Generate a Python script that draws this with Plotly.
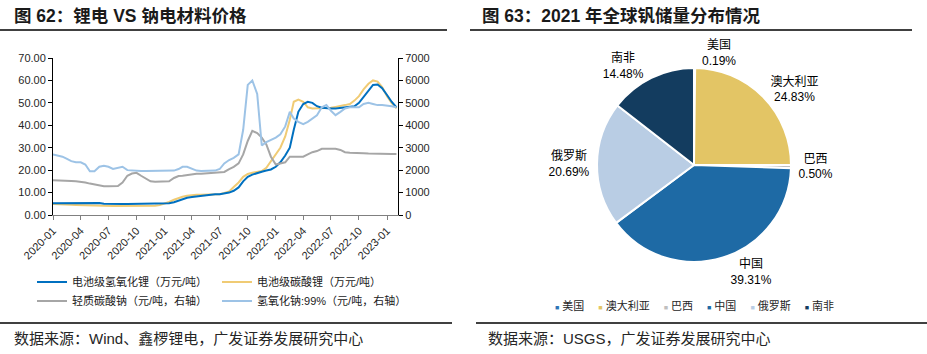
import plotly.graph_objects as go

# ---------------- data ----------------
# semi-monthly observation dates (1st and 16th of each month), 2020-01-01 .. 2023-02-01
dates = [f"{2020 + (i // 2) // 12}-{(i // 2) % 12 + 1:02d}-{1 if i % 2 == 0 else 16:02d}" for i in range(75)]

# 电池级氢氧化锂（万元/吨）
lioh = [5.2, 5.2, 5.3, 5.3, 5.3, 5.3, 5.3, 5.3, 5.4, 5.4,
        5.3, 5.0, 4.9, 4.9, 4.9, 4.9, 4.9, 4.9, 4.9, 4.9,
        4.9, 4.9, 4.9, 4.9, 4.9,
        5.2, 5.7, 6.5, 7.2, 7.7, 8.0, 8.3, 8.5, 8.8, 9.1,
        9.2, 9.3, 9.5, 10.0, 10.8, 12.3, 15.0, 17.0, 18.0, 18.8,
        19.3, 19.8, 20.3, 21.5, 23.5, 26.5, 30.0, 38.0, 46.0, 49.5,
        50.5, 50.0, 48.5, 47.8, 47.5, 47.5, 47.5, 47.8, 48.0, 48.2,
        48.5, 50.0, 52.5, 55.5, 58.0, 58.2, 56.5, 53.5, 50.5, 48.0]

# 电池级碳酸锂（万元/吨）
li2co3 = [4.9, 4.9, 4.8, 4.7, 4.6, 4.5, 4.4, 4.3, 4.2, 4.2,
          4.1, 4.1, 4.0, 4.0, 4.0, 4.0, 4.0, 4.0, 4.1, 4.1,
          4.1, 4.1,
          4.1, 4.4, 5.0, 5.8, 6.8, 7.6, 8.1, 8.6, 8.9, 9.0,
          9.0, 9.0, 9.0, 9.1, 9.3, 9.8, 10.5, 12.5, 14.5, 17.0,
          18.3, 18.8, 19.2, 19.6, 21.0, 24.0, 27.0, 30.0, 35.0, 42.5,
          50.5, 51.5, 50.5, 48.0, 47.5, 47.5, 47.5, 47.5, 47.8, 48.2,
          48.5, 49.0, 49.5, 51.0, 53.0, 56.0, 58.5, 60.0, 59.5, 57.0,
          53.0, 50.0, 47.5]

# 轻质碳酸钠（元/吨，右轴）
soda_ash = [1550, 1550, 1550, 1540, 1520, 1500, 1480, 1450, 1400, 1350,
            1300, 1280, 1280, 1280, 1290, 1450, 1750, 1850, 1880, 1750,
            1600, 1500, 1480, 1480, 1480, 1500, 1650, 1740, 1750, 1780,
            1820, 1840, 1840, 1850, 1860, 1870, 1900, 1920, 2050, 2150,
            2300, 2700, 3300, 3750, 3650, 3450, 3150, 2600, 2250, 2300,
            2350, 2600, 2600, 2600, 2600, 2700, 2800, 2850, 2950, 2950,
            2950, 2950, 2900, 2800, 2780, 2760, 2760, 2750, 2740, 2730,
            2730, 2720, 2720, 2720, 2720]

# 氢氧化钠:99%（元/吨，右轴）
naoh = [2700, 2650, 2600, 2500, 2400, 2350, 2350, 2250, 1950, 1950,
        2150, 2200, 2150, 2050, 2100, 2150, 2000, 1980, 1960, 1960,
        1960, 1960, 1970, 1960, 1960, 1960, 1980, 2050, 2150, 2150,
        2050, 1980, 1960, 1960, 1960, 1980, 2050, 2300, 2450, 2550,
        2700, 3800, 5800, 6000, 5400, 3100, 3250, 3350, 3450, 3600,
        3950, 4600, 4300, 4150, 4050, 4150, 4300, 4450, 4800, 4900,
        4650, 4450, 4600, 4750, 4800, 4800, 4800, 4950, 5000, 4950,
        4900, 4900, 4880, 4850, 4800]

line_names = ["电池级氢氧化锂（万元/吨）", "电池级碳酸锂（万元/吨）",
              "轻质碳酸钠（元/吨，右轴）", "氢氧化钠:99%（元/吨，右轴）"]
line_colors = ["#0070C0", "#F0CB74", "#A6A6A6", "#9DC3E6"]

pie_labels = ["美国", "澳大利亚", "巴西", "中国", "俄罗斯", "南非"]
pie_values = [0.19, 24.83, 0.50, 39.31, 20.69, 14.48]
pie_colors = ["#2E75B6", "#E3C565", "#BFBFBF", "#1E6AA5", "#B9CDE4", "#133C5F"]

title_left = "图 62：锂电 VS 钠电材料价格"
title_right = "图 63：2021 年全球钒储量分布情况"
source_left = "数据来源：Wind、鑫椤锂电，广发证券发展研究中心"
source_right = "数据来源：USGS，广发证券发展研究中心"

# ---------------- layout helpers ----------------
W, H = 927, 354
def px(x):
    return x / W
def py(y):
    return 1 - y / H

FONT = "Liberation Sans, Arial, Noto Sans CJK SC"
CJK = "Liberation Sans, Noto Sans CJK SC"

fig = go.Figure()

# right-axis series first (drawn underneath); each legend entry in its own legend box
fig.add_trace(go.Scatter(x=dates, y=soda_ash, name=line_names[2], yaxis="y2", mode="lines",
                         line=dict(color=line_colors[2], width=2), legend="legend3"))
fig.add_trace(go.Scatter(x=dates, y=naoh, name=line_names[3], yaxis="y2", mode="lines",
                         line=dict(color=line_colors[3], width=2), legend="legend4"))
fig.add_trace(go.Scatter(x=dates, y=li2co3, name=line_names[1], yaxis="y", mode="lines",
                         line=dict(color=line_colors[1], width=2), legend="legend2"))
fig.add_trace(go.Scatter(x=dates, y=lioh, name=line_names[0], yaxis="y", mode="lines",
                         line=dict(color=line_colors[0], width=2), legend="legend"))

fig.add_trace(go.Pie(labels=pie_labels, values=pie_values, sort=False, direction="clockwise",
                     rotation=0, marker=dict(colors=pie_colors, line=dict(color="white", width=2)),
                     textposition="outside", texttemplate="%{label}<br>%{percent:.2%}",
                     textfont=dict(family=CJK, size=12, color="#000"),
                     domain=dict(x=[px(597), px(791)], y=[py(262), py(68)]),
                     showlegend=False, hoverinfo="label+percent"))

axis_font = dict(family=FONT, size=11, color="#262626")
legend_common = dict(orientation="h", xanchor="left", yanchor="middle",
                     font=dict(family=CJK, size=11, color="#1a1a1a"), bgcolor="rgba(0,0,0,0)",
                     itemclick=False, itemdoubleclick=False)

fig.update_layout(
    width=W, height=H, margin=dict(l=0, r=0, t=0, b=0, autoexpand=False),
    paper_bgcolor="white", plot_bgcolor="white",
    xaxis=dict(domain=[px(53), px(398)], type="date", range=["2020-01-01", "2023-02-06"],
               tickformat="%Y-%m", dtick="M3", tick0="2020-01-01", tickangle=-45,
               showline=True, linecolor="#808080", linewidth=1, ticks="outside", ticklen=4,
               tickcolor="#808080", showgrid=False, zeroline=False, tickfont=axis_font,
               automargin=False),
    yaxis=dict(domain=[py(215), py(58)], range=[0, 70], dtick=10, tickformat=".2f",
               showline=True, linecolor="#000", linewidth=1, ticks="outside", ticklen=4,
               tickcolor="#000", showgrid=False, zeroline=False, tickfont=axis_font,
               automargin=False),
    yaxis2=dict(overlaying="y", side="right", anchor="x", range=[0, 7000], dtick=1000,
                showline=True, linecolor="#000", linewidth=1, ticks="outside", ticklen=4,
                tickcolor="#000", showgrid=False, zeroline=False, tickfont=axis_font,
                automargin=False),
    legend=dict(x=px(32), y=py(282), **legend_common),
    legend2=dict(x=px(217), y=py(282), **legend_common),
    legend3=dict(x=px(32), y=py(301), **legend_common),
    legend4=dict(x=px(217), y=py(301), **legend_common),
    hovermode=False,
)

# titles
fig.add_annotation(text=f"<b>{title_left}</b>", xref="paper", yref="paper", x=px(12), y=py(16),
                   xanchor="left", yanchor="middle", showarrow=False,
                   font=dict(family=CJK, size=17.5, color="#1a1a1a"))
fig.add_annotation(text=f"<b>{title_right}</b>", xref="paper", yref="paper", x=px(480), y=py(16),
                   xanchor="left", yanchor="middle", showarrow=False,
                   font=dict(family=CJK, size=17.5, color="#1a1a1a"))
# sources
fig.add_annotation(text=source_left, xref="paper", yref="paper", x=px(12), y=py(338),
                   xanchor="left", yanchor="middle", showarrow=False,
                   font=dict(family=CJK, size=15, color="#262626"))
fig.add_annotation(text=source_right, xref="paper", yref="paper", x=px(486), y=py(338),
                   xanchor="left", yanchor="middle", showarrow=False,
                   font=dict(family=CJK, size=15, color="#262626"))

# pie legend (compact, built from the pie's labels and colours)
pie_legend = "\u2003 ".join(
    f"<span style='color:{c};font-size:7px'>■</span> {l}" for l, c in zip(pie_labels, pie_colors))
fig.add_annotation(text=pie_legend, xref="paper", yref="paper", x=px(694), y=py(305),
                   xanchor="center", yanchor="middle", showarrow=False,
                   font=dict(family=CJK, size=11, color="#262626"))

# rule lines under titles and above sources
for x0, x1, yy in [(0, 447, 30), (470, 912, 30), (0, 452, 323), (476, 927, 323)]:
    fig.add_shape(type="line", xref="paper", yref="paper", x0=px(x0), x1=px(x1), y0=py(yy), y1=py(yy),
                  line=dict(color="#000", width=1.3))

fig.write_html("out.html")
